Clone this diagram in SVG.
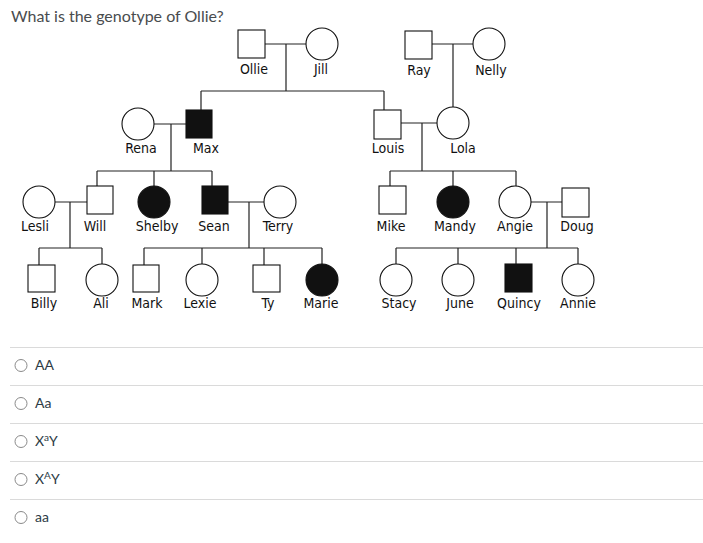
<svg xmlns="http://www.w3.org/2000/svg" width="703" height="543" viewBox="0 0 703 543">
<style>
.n{fill:#fff;stroke:#111;stroke-width:1.1}
.a{fill:#111;stroke:#111;stroke-width:1.1}
.lbl{font-family:"DejaVu Sans Condensed","DejaVu Sans",Verdana,sans-serif;font-size:14px;fill:#111;text-anchor:middle}
.c path{fill:none;stroke:#222;stroke-width:1.2}
.title{font-family:Lato,"Liberation Sans",sans-serif;font-size:16px;fill:#494c4e}
.opt{font-family:Lato,"Liberation Sans",sans-serif;font-size:14px;fill:#2d3b45}
.sep{stroke:#dadada;stroke-width:1}
.radio{fill:#fff;stroke:#8a8a8a;stroke-width:1}
</style>
<rect width="703" height="543" fill="#fff"/>
<text class="title" x="11" y="22">What is the genotype of Ollie?</text>

<g class="c" id="connectors">
<path d="M265 44H306M286 44V91M201 91H384M201 91V110M384 91V110"/>
<path d="M432 44H473M453 44V107"/>
<path d="M154 124H186M171 124V171M97 171H212M97 171V186M154 171V186M212 171V186"/>
<path d="M401 123H437M422 123V171M390 171H516M390 171V186M453 171V186M516 171V186"/>
<path d="M55 202H87M70 202V248M39 248H102M39 248V265M102 248V264"/>
<path d="M228 202H264M249 202V248M144 248H322M144 248V265M202 248V264M264 248V265M322 248V264"/>
<path d="M531 202H562M547 202V248M396 248H578M396 248V264M458 248V264M516 248V264M578 248V264"/>
</g>

<g id="ollie"><rect class="n" x="238" y="30" width="27" height="28"/><text class="lbl" x="254" y="74">Ollie</text></g>
<g id="jill"><circle class="n" cx="322" cy="44" r="16"/><text class="lbl" x="321" y="74">Jill</text></g>
<g id="ray"><rect class="n" x="405" y="31" width="27" height="28"/><text class="lbl" x="419" y="75">Ray</text></g>
<g id="nelly"><circle class="n" cx="489" cy="44" r="16"/><text class="lbl" x="491" y="75">Nelly</text></g>
<g id="rena"><circle class="n" cx="138" cy="124" r="16"/><text class="lbl" x="141" y="153">Rena</text></g>
<g id="max"><rect class="a" x="186" y="110" width="26" height="28"/><text class="lbl" x="206" y="153">Max</text></g>
<g id="louis"><rect class="n" x="374" y="110" width="27" height="29"/><text class="lbl" x="388" y="153">Louis</text></g>
<g id="lola"><circle class="n" cx="453" cy="123" r="16"/><text class="lbl" x="463" y="153">Lola</text></g>
<g id="lesli"><circle class="n" cx="39" cy="202" r="16"/><text class="lbl" x="35" y="231">Lesli</text></g>
<g id="will"><rect class="n" x="87" y="186" width="26" height="28"/><text class="lbl" x="95" y="231">Will</text></g>
<g id="shelby"><circle class="a" cx="154" cy="202" r="16"/><text class="lbl" x="157" y="231">Shelby</text></g>
<g id="sean"><rect class="a" x="202" y="186" width="26" height="28"/><text class="lbl" x="214" y="231">Sean</text></g>
<g id="terry"><circle class="n" cx="280" cy="202" r="16"/><text class="lbl" x="278" y="231">Terry</text></g>
<g id="mike"><rect class="n" x="379" y="186" width="27" height="28"/><text class="lbl" x="391" y="231">Mike</text></g>
<g id="mandy"><circle class="a" cx="453" cy="202" r="16"/><text class="lbl" x="455" y="231">Mandy</text></g>
<g id="angie"><circle class="n" cx="515" cy="202" r="16"/><text class="lbl" x="515" y="231">Angie</text></g>
<g id="doug"><rect class="n" x="562" y="188" width="27" height="29"/><text class="lbl" x="577" y="231">Doug</text></g>
<g id="billy"><rect class="n" x="28" y="265" width="27" height="27"/><text class="lbl" x="44" y="308">Billy</text></g>
<g id="ali"><circle class="n" cx="102" cy="280" r="16"/><text class="lbl" x="101" y="308">Ali</text></g>
<g id="mark"><rect class="n" x="133" y="265" width="26" height="27"/><text class="lbl" x="147" y="308">Mark</text></g>
<g id="lexie"><circle class="n" cx="202" cy="280" r="16"/><text class="lbl" x="200" y="308">Lexie</text></g>
<g id="ty"><rect class="n" x="253" y="265" width="27" height="27"/><text class="lbl" x="268" y="308">Ty</text></g>
<g id="marie"><circle class="a" cx="322" cy="280" r="16"/><text class="lbl" x="321" y="308">Marie</text></g>
<g id="stacy"><circle class="n" cx="396" cy="280" r="16"/><text class="lbl" x="399" y="308">Stacy</text></g>
<g id="june"><circle class="n" cx="458" cy="280" r="16"/><text class="lbl" x="460" y="308">June</text></g>
<g id="quincy"><rect class="a" x="505" y="264" width="27" height="28"/><text class="lbl" x="519" y="308">Quincy</text></g>
<g id="annie"><circle class="n" cx="578" cy="280" r="16"/><text class="lbl" x="578" y="308">Annie</text></g>

<g id="answers">
<line class="sep" x1="10" y1="347.5" x2="703" y2="347.5"/>
<line class="sep" x1="10" y1="385.5" x2="703" y2="385.5"/>
<line class="sep" x1="10" y1="423.5" x2="703" y2="423.5"/>
<line class="sep" x1="10" y1="461.5" x2="703" y2="461.5"/>
<line class="sep" x1="10" y1="499.5" x2="703" y2="499.5"/>
<circle class="radio" cx="21" cy="365.5" r="6"/>
<circle class="radio" cx="21" cy="403.5" r="6"/>
<circle class="radio" cx="21" cy="441.5" r="6"/>
<circle class="radio" cx="21" cy="479.5" r="6"/>
<circle class="radio" cx="21" cy="517.5" r="6"/>
<text class="opt" x="35" y="370">AA</text>
<text class="opt" x="35" y="408">Aa</text>
<text class="opt" x="35" y="446">X<tspan font-size="10" dy="-5">a</tspan><tspan dy="5">Y</tspan></text>
<text class="opt" x="35" y="484">X<tspan font-size="10" dy="-5">A</tspan><tspan dy="5">Y</tspan></text>
<text class="opt" x="35" y="522">aa</text>
</g>
</svg>
